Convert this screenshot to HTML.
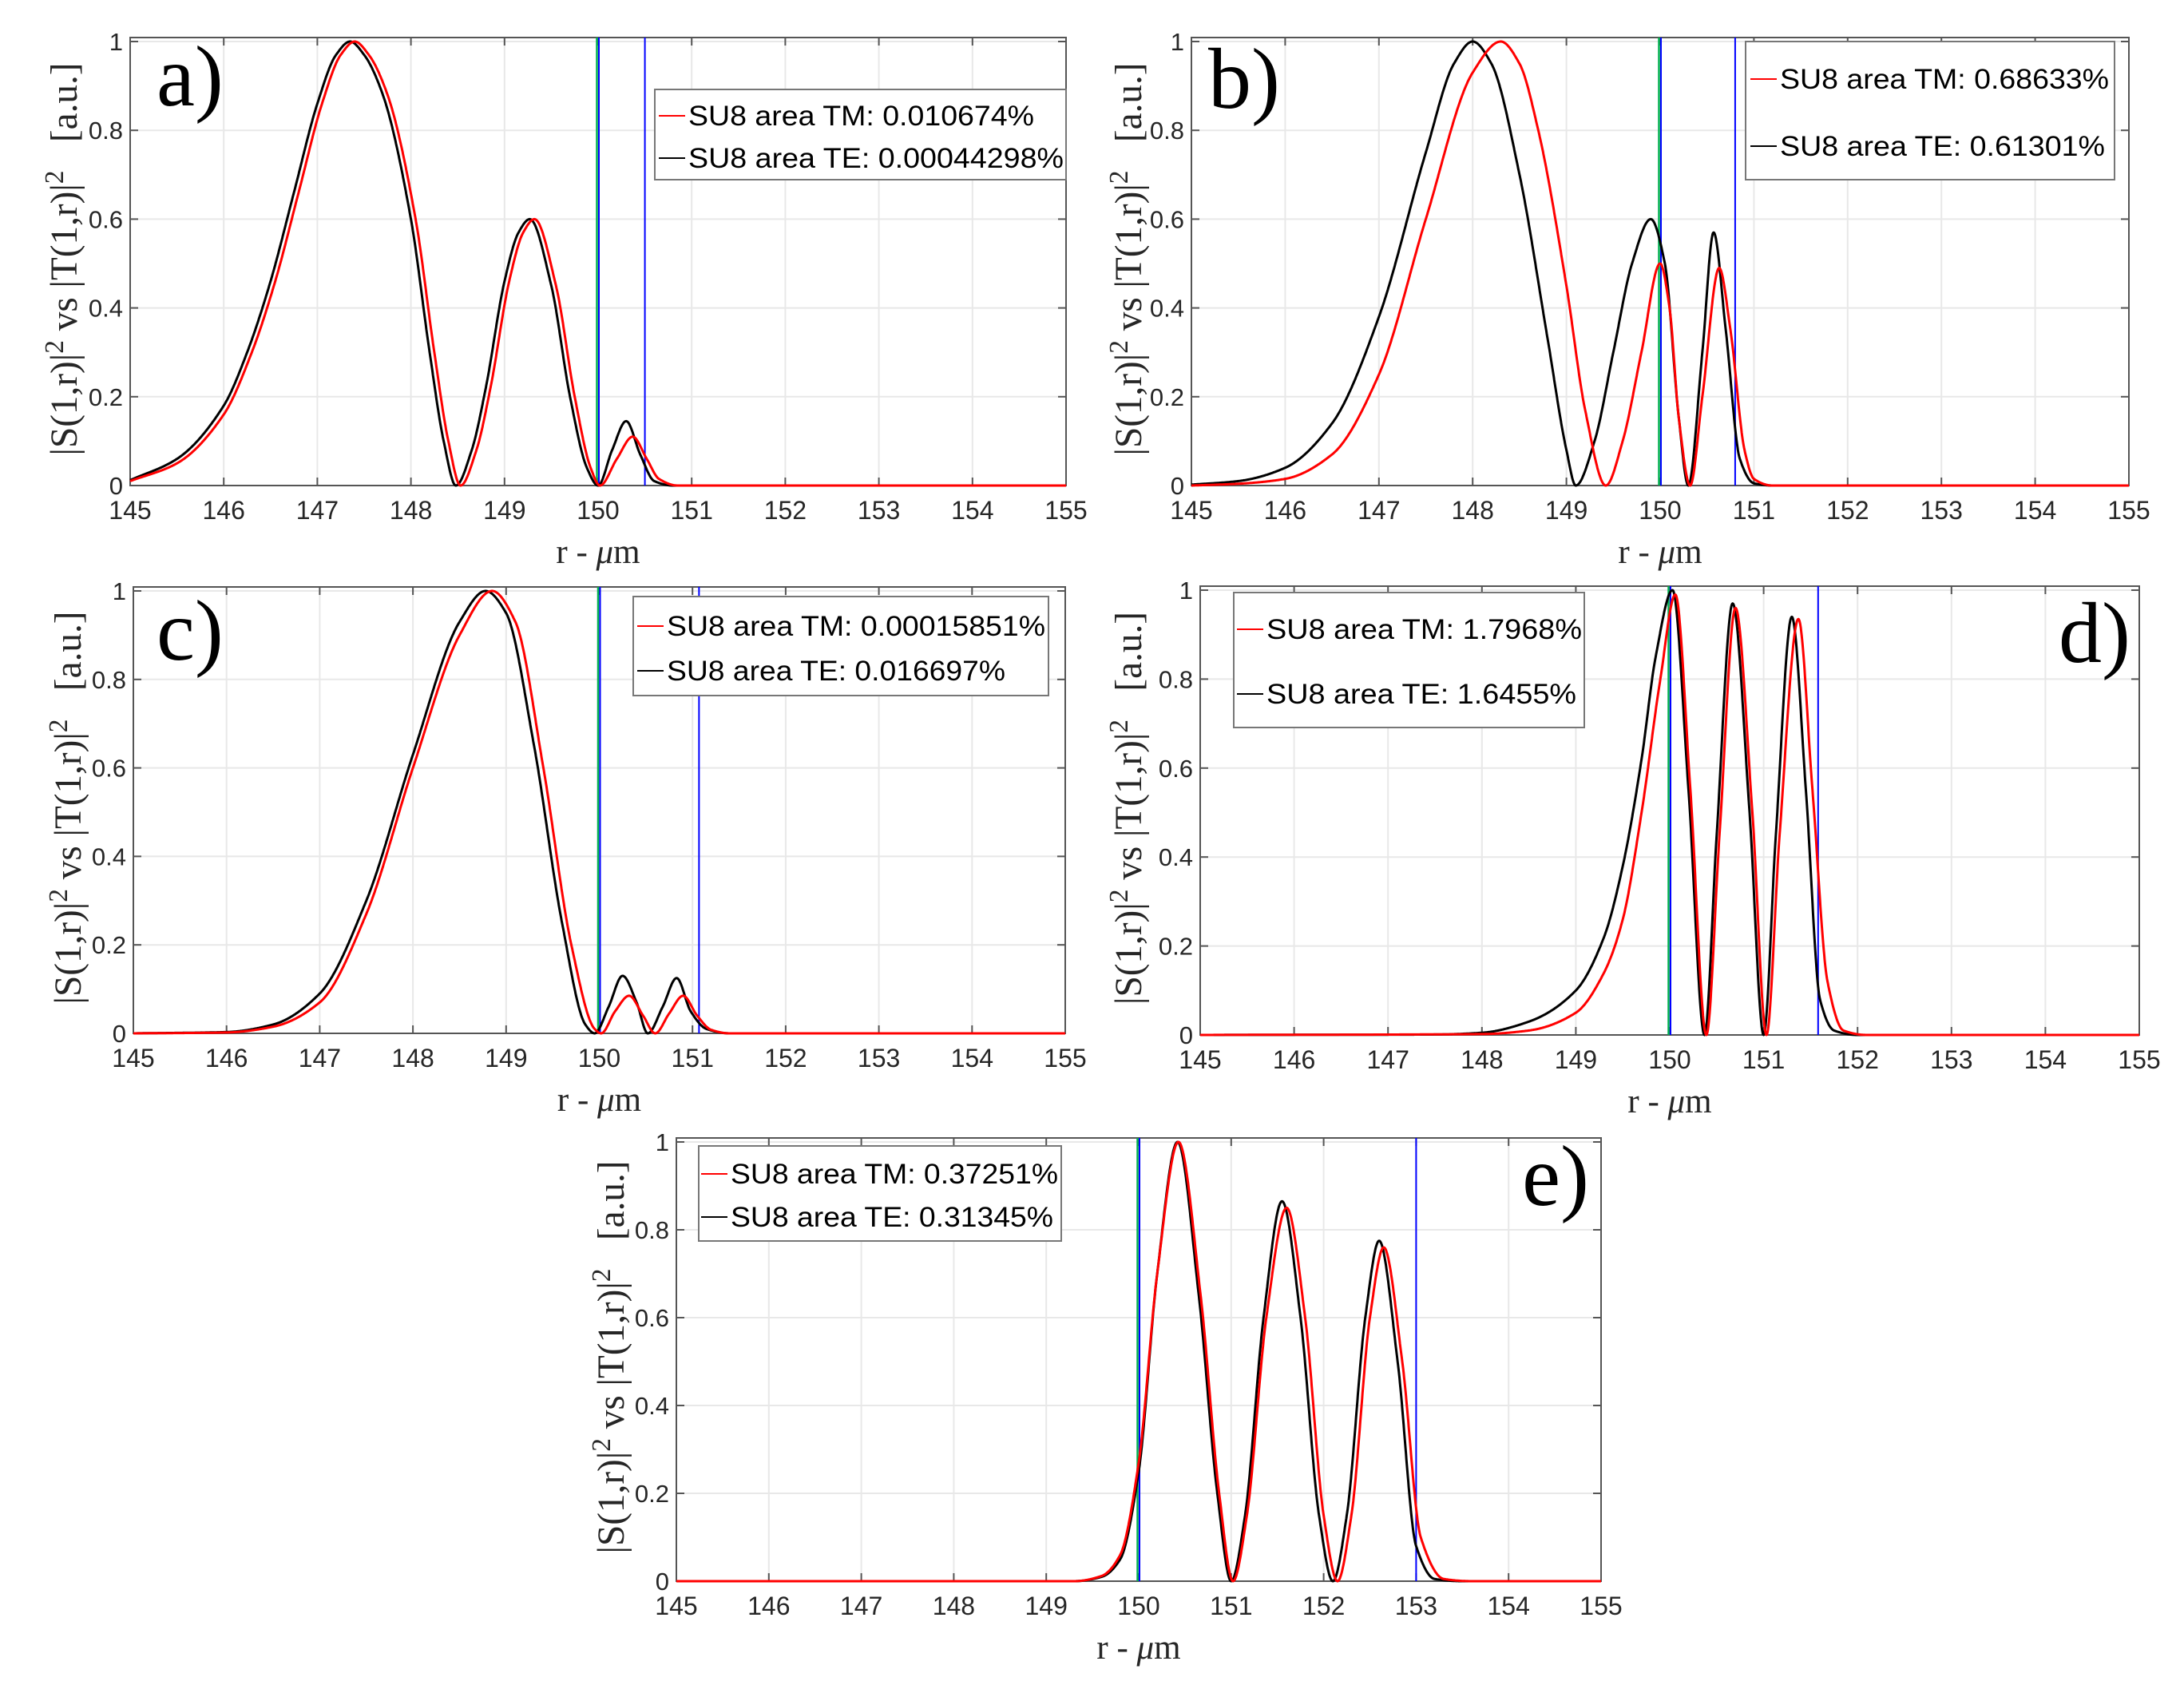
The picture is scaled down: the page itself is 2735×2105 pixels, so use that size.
<!DOCTYPE html>
<html><head><meta charset="utf-8"><style>
html,body{margin:0;padding:0;background:#fff;}
svg{display:block;}
</style></head>
<body>
<svg id="fig" xmlns="http://www.w3.org/2000/svg" width="2735" height="2105" viewBox="0 0 2735 2105">
<rect x="0" y="0" width="2735" height="2105" fill="#fff"/>
</svg>
<script>
// ===== data =====
const xTicks = [145,146,147,148,149,150,151,152,153,154,155];
const yTicks = [0,0.2,0.4,0.6,0.8,1];
const yTickLabels = ["0","0.2","0.4","0.6","0.8","1"];

// panel a
const aTE_r = [145,145.5,146,146.25,146.5,146.75,147,147.2,147.35,147.5,147.7,148,148.2,148.35,148.48,148.65,148.8,149,149.15,149.27,149.5,149.7,149.88,150,150.15,150.3,150.45,150.6,150.8,155];
const aTE_v = [0.012,0.06,0.18,0.3,0.46,0.66,0.86,0.97,1,0.97,0.88,0.6,0.3,0.1,0,0.08,0.22,0.46,0.57,0.6,0.45,0.2,0.04,0,0.08,0.145,0.07,0.01,0,0];
const aTM_r = [145,145.5,146,146.3,146.55,146.8,147.05,147.25,147.4,147.55,147.75,148.05,148.25,148.4,148.53,148.7,148.85,149.05,149.2,149.32,149.55,149.75,149.92,150.02,150.2,150.37,150.52,150.65,150.85,155];
const aTM_v = [0.01,0.05,0.16,0.3,0.46,0.66,0.86,0.97,1,0.97,0.88,0.6,0.3,0.1,0,0.08,0.22,0.46,0.57,0.6,0.45,0.2,0.04,0,0.06,0.11,0.06,0.015,0,0];
// panel b
const bTE_r = [145,145.5,146,146.5,147,147.5,147.8,148,148.2,148.5,148.8,149,149.1,149.3,149.5,149.7,149.9,150.05,150.2,150.3,150.45,150.57,150.7,150.85,151,151.2,155];
const bTE_v = [0.002,0.01,0.04,0.14,0.38,0.75,0.95,1,0.95,0.7,0.33,0.08,0,0.1,0.3,0.5,0.6,0.5,0.15,0,0.3,0.57,0.35,0.06,0.005,0,0];
const bTM_r = [145,145.5,146,146.5,147,147.5,148,148.3,148.5,148.7,149,149.2,149.42,149.6,149.8,150,150.1,150.2,150.32,150.45,150.63,150.75,150.9,151,151.2,155];
const bTM_v = [0,0.004,0.015,0.07,0.25,0.6,0.93,1,0.95,0.8,0.45,0.17,0,0.1,0.3,0.5,0.4,0.15,0,0.2,0.49,0.35,0.08,0.015,0,0];
// panel c
const cTE_r = [145,146,146.5,147,147.5,148,148.5,148.78,149,149.3,149.6,149.85,149.95,150.1,150.25,150.4,150.52,150.68,150.83,150.98,151.15,151.4,155];
const cTE_v = [0,0.003,0.02,0.09,0.3,0.63,0.93,1,0.95,0.65,0.25,0.02,0,0.06,0.13,0.07,0,0.06,0.125,0.05,0.01,0,0];
const cTM_r = [145,146,146.5,147,147.5,148,148.5,148.85,149.1,149.4,149.7,149.95,150.02,150.17,150.32,150.47,150.6,150.75,150.9,151.05,151.2,151.4,155];
const cTM_v = [0,0.002,0.015,0.07,0.27,0.6,0.9,1,0.93,0.6,0.2,0.01,0,0.05,0.085,0.04,0,0.045,0.085,0.04,0.008,0,0];
// panel d
const dTE_r = [145,147.5,148,148.5,149,149.3,149.5,149.7,149.85,150.03,150.2,150.37,150.5,150.67,150.85,151,151.13,151.3,151.45,151.6,151.75,152,155];
const dTE_v = [0,0.001,0.005,0.03,0.1,0.22,0.38,0.62,0.85,1,0.55,0,0.45,0.97,0.5,0,0.45,0.94,0.55,0.08,0.01,0,0];
const dTM_r = [145,148,148.5,149,149.3,149.5,149.7,149.9,150.06,150.22,150.39,150.53,150.7,150.88,151.03,151.17,151.37,151.52,151.68,151.85,152.1,155];
const dTM_v = [0,0.002,0.01,0.05,0.14,0.26,0.5,0.8,0.99,0.55,0,0.45,0.96,0.5,0,0.45,0.935,0.55,0.12,0.01,0,0];
// panel e
const eTE_r = [145,149.3,149.6,149.8,150,150.2,150.42,150.65,150.85,151,151.15,151.35,151.55,151.75,151.95,152.1,152.25,152.45,152.6,152.8,153,153.2,153.5,155];
const eTE_v = [0,0,0.01,0.05,0.25,0.7,1,0.65,0.2,0,0.15,0.6,0.865,0.6,0.15,0,0.15,0.6,0.775,0.5,0.08,0.005,0,0];
const eTM_r = [145,149.3,149.6,149.8,150,150.2,150.43,150.67,150.87,151.02,151.17,151.38,151.6,151.8,152,152.15,152.3,152.5,152.65,152.85,153.05,153.3,153.6,155];
const eTM_v = [0,0,0.012,0.06,0.27,0.7,1,0.65,0.2,0,0.15,0.6,0.85,0.6,0.15,0,0.15,0.6,0.76,0.5,0.1,0.005,0,0];

const legendTM = ["SU8 area TM: 0.010674%","SU8 area TM: 0.68633%","SU8 area TM: 0.00015851%","SU8 area TM: 1.7968%","SU8 area TM: 0.37251%"];
const legendTE = ["SU8 area TE: 0.00044298%","SU8 area TE: 0.61301%","SU8 area TE: 0.016697%","SU8 area TE: 1.6455%","SU8 area TE: 0.31345%"];
const boundary = [150.5,150.8,151.07,151.58,153.0];
const panelLetters = ["a)","b)","c)","d)","e)"];

// ===== layout =====
const panels = [
 {x0:163,x1:1335,y1:52,y0:608, te:[aTE_r,aTE_v], tm:[aTM_r,aTM_v], leg:{x:820,y:112,w:515,h:113,tx:862,b1:157,b2:210,l1:433,l2:470}, lab:{x:196,y:132,a:"start"}, yl:{x:80}},
 {x0:1492,x1:2666,y1:52,y0:608, te:[bTE_r,bTE_v], tm:[bTM_r,bTM_v], leg:{x:2186,y:52,w:462,h:173,tx:2229,b1:111,b2:195,l1:412,l2:407}, lab:{x:1513,y:135,a:"start"}, yl:{x:1413}},
 {x0:167,x1:1334,y1:740,y0:1294, te:[cTE_r,cTE_v], tm:[cTM_r,cTM_v], leg:{x:793,y:747,w:520,h:124,tx:835,b1:796,b2:852,l1:474,l2:424}, lab:{x:196,y:826,a:"start"}, yl:{x:85}},
 {x0:1503,x1:2679,y1:739,y0:1296, te:[dTE_r,dTE_v], tm:[dTM_r,dTM_v], leg:{x:1545,y:742,w:439,h:169,tx:1586,b1:800,b2:881,l1:395,l2:388}, lab:{x:2668,y:829,a:"end"}, yl:{x:1413}},
 {x0:847,x1:2005,y1:1430,y0:1980, te:[eTE_r,eTE_v], tm:[eTM_r,eTM_v], leg:{x:875,y:1435,w:454,h:119,tx:915,b1:1482,b2:1536,l1:410,l2:404}, lab:{x:1990,y:1509,a:"end"}, yl:{x:765}}
];

const NS = "http://www.w3.org/2000/svg";
const svg = document.getElementById('fig');
function mk(tag, attrs, parent){
  const el = document.createElementNS(NS, tag);
  for (const k in attrs) el.setAttribute(k, attrs[k]);
  (parent||svg).appendChild(el);
  return el;
}
function monotone(xs, ys){
  const n = xs.length, d = [], m = new Array(n);
  for (let i=0;i<n-1;i++) d.push((ys[i+1]-ys[i])/(xs[i+1]-xs[i]));
  m[0]=d[0]; m[n-1]=d[n-2];
  for (let i=1;i<n-1;i++){
    if (d[i-1]*d[i] <= 0) m[i]=0;
    else { const w1=2*(xs[i+1]-xs[i])+(xs[i]-xs[i-1]), w2=(xs[i+1]-xs[i])+2*(xs[i]-xs[i-1]); m[i]=(w1+w2)/(w1/d[i-1]+w2/d[i]); }
  }
  return function(x){
    let i=0; while(i<n-2 && x>xs[i+1]) i++;
    const h=xs[i+1]-xs[i], t=(x-xs[i])/h;
    const h00=2*t*t*t-3*t*t+1,h10=t*t*t-2*t*t+t,h01=-2*t*t*t+3*t*t,h11=t*t*t-t*t;
    return h00*ys[i]+h10*h*m[i]+h01*ys[i+1]+h11*h*m[i+1];
  };
}

panels.forEach((p, pi) => {
  const g = mk('g', {});
  
  
  const X = v => p.x0 + (v-145)/10*(p.x1-p.x0);
  const Y = v => p.y0 - v*(p.y0-p.y1);
  const top = p.y1 - 5;
  xTicks.forEach(t => { const l = mk('line',{x1:X(t),x2:X(t),y1:top,y2:p.y0,stroke:'#e8e8e8','stroke-width':2},g);
      });
  yTicks.forEach(t => { const l = mk('line',{x1:p.x0,x2:p.x1,y1:Y(t),y2:Y(t),stroke:'#e8e8e8','stroke-width':2},g);
      });
  const box = mk('rect',{x:p.x0,y:top,width:p.x1-p.x0,height:p.y0-top,fill:'none',stroke:'#555','stroke-width':2},g);
   
  xTicks.forEach(t => { mk('line',{x1:X(t),x2:X(t),y1:p.y0,y2:p.y0-10,stroke:'#555','stroke-width':2},g); mk('line',{x1:X(t),x2:X(t),y1:top,y2:top+10,stroke:'#555','stroke-width':2},g);
    const tx = mk('text',{x:X(t),y:p.y0+42,'text-anchor':'middle','font-family':'Liberation Sans, sans-serif','font-size':32,fill:'#262626'},g);
    tx.textContent = t;   });
  yTicks.forEach((t,i) => { mk('line',{x1:p.x0,x2:p.x0+10,y1:Y(t),y2:Y(t),stroke:'#555','stroke-width':2},g); mk('line',{x1:p.x1,x2:p.x1-10,y1:Y(t),y2:Y(t),stroke:'#555','stroke-width':2},g);
    const tx = mk('text',{x:p.x0-9,y:Y(t)+11,'text-anchor':'end','font-family':'Liberation Sans, sans-serif','font-size':31,fill:'#262626'},g);
    tx.textContent = yTickLabels[i];   });
  const gl = mk('line',{x1:X(150)-1.5,x2:X(150)-1.5,y1:top,y2:p.y0,stroke:'#00b050','stroke-width':2.5},g);
   
  const bl = mk('line',{x1:X(150)+1,x2:X(150)+1,y1:top,y2:p.y0,stroke:'#0000ff','stroke-width':2},g);
   
  const bl2 = mk('line',{x1:X(boundary[pi]),x2:X(boundary[pi]),y1:top,y2:p.y0,stroke:'#0000ff','stroke-width':2},g);
   
  [[p.te,'#000','te-curve'],[p.tm,'#ff0000','tm-curve']].forEach(([s,col,nm]) => {
    const f = monotone(s[0], s[1]);
    let d = '';
    for (let k=0;k<=2000;k++){ const xv = 145 + k*10/2000; let yv = Math.max(0, f(xv)); d += (k?'L':'M') + X(xv).toFixed(1) + ' ' + Y(yv).toFixed(1); }
    const path = mk('path',{d:d,fill:'none',stroke:col,'stroke-width':3,'stroke-linejoin':'round'},g);
     
  });
  const L = p.leg;
  const lg = mk('g',{},g);
   
  mk('rect',{x:L.x,y:L.y,width:L.w,height:L.h,fill:'#fff',stroke:'#777','stroke-width':2},lg);
  [[legendTM[pi],'#ff0000',L.b1,L.l1,'legend-entry-tm'],[legendTE[pi],'#000',L.b2,L.l2,'legend-entry-te']].forEach(([txt,col,b,len,nm]) => {
    mk('line',{x1:L.tx-37,x2:L.tx-4,y1:b-12,y2:b-12,stroke:col,'stroke-width':2},lg);
    const t = mk('text',{x:L.tx,y:b,'font-family':'Liberation Sans, sans-serif','font-size':35,fill:'#000',textLength:len,lengthAdjust:'spacingAndGlyphs'},lg);
    t.textContent = txt;  
  });
  const pl = mk('text',{x:p.lab.x,y:p.lab.y,'text-anchor':p.lab.a,'font-family':'Liberation Serif, serif','font-size':108,fill:'#000'},g);
  pl.textContent = panelLetters[pi];  
  const xl = mk('text',{x:(p.x0+p.x1)/2,y:p.y0+97,'text-anchor':'middle','font-family':'Liberation Serif, serif','font-size':43,fill:'#262626'},g);
   
  xl.innerHTML = 'r - <tspan font-style="italic">μ</tspan>m';
  const ym = (p.y0 + top)/2 - 3;
  const ylab = mk('text',{x:0,y:0,'text-anchor':'middle','font-family':'Liberation Serif, serif','font-size':48,fill:'#262626',transform:'translate('+(p.yl.x+16)+','+ym+') rotate(-90)',textLength:492,lengthAdjust:'spacingAndGlyphs'},g);
   
  ylab.innerHTML = '|S(1,r)|<tspan dy="-17" font-size="34">2</tspan><tspan dy="17"> vs |T(1,r)|</tspan><tspan dy="-17" font-size="34">2</tspan><tspan dy="17" xml:space="preserve">   [a.u.]</tspan>';
});
</script>
</body></html>
